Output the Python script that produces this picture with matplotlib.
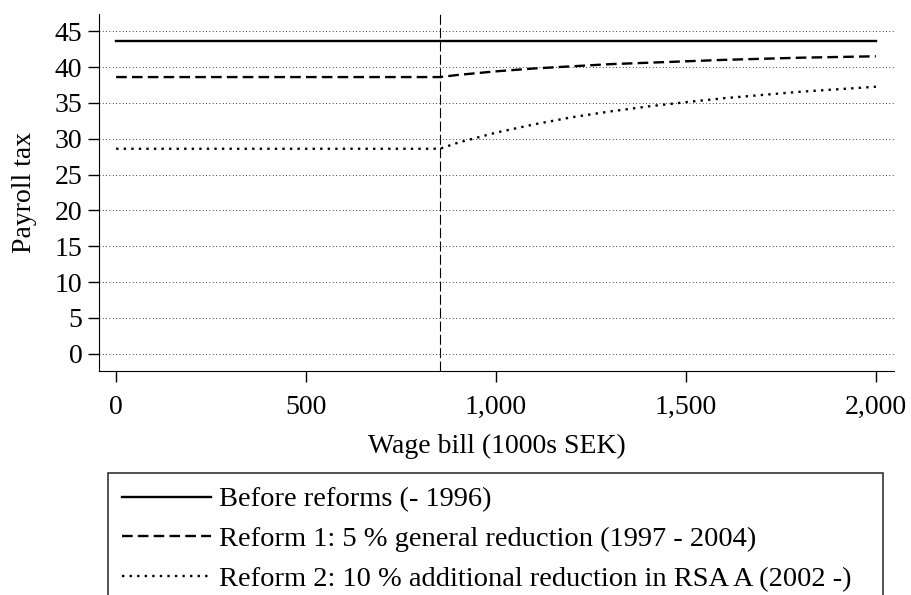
import numpy as np
import matplotlib.pyplot as plt

plt.rcParams['font.family'] = ['Liberation Serif', 'DejaVu Serif']

# wage bill (1000s SEK) and payroll tax (%)
wage = [0, 852, 900, 1000, 1100, 1200, 1300, 1400, 1500, 1600, 1700, 1800, 1900, 2000]
before = [43.65] * len(wage)
reform1 = [38.6, 38.6, 38.9, 39.4, 39.8, 40.1, 40.4, 40.6, 40.8, 41.0, 41.15, 41.3, 41.4, 41.5]
reform2 = [28.6, 28.6, 29.45, 30.85, 32.0, 33.0, 33.8, 34.5, 35.1, 35.65, 36.1, 36.55, 36.9, 37.25]
threshold = 852

labels = ['Before reforms (- 1996)',
          'Reform 1: 5 % general reduction (1997 - 2004)',
          'Reform 2: 10 % additional reduction in RSA A (2002 -)']

fig = plt.figure(figsize=(9.12, 5.95), dpi=100)
ax = fig.add_axes([0.1086, 0.3765, 0.8714, 0.6])

ax.plot(wage, before, color='black', lw=1.7, ls='-', label=labels[0])
ax.plot(wage, reform1, color='black', lw=1.7, ls=(0, (4.5, 2.2)), label=labels[1])
ax.plot(wage, reform2, color='black', lw=1.7, ls=(0, (1, 2.2)), label=labels[2])
ax.axvline(threshold, color='black', lw=0.8, ls=(0, (9, 3)))

ax.set_xlim(-45, 2047)
ax.set_ylim(-2.4, 47.4)
ax.set_yticks(np.arange(0, 46, 5))
ax.set_xticks([0, 500, 1000, 1500, 2000])
ax.set_xticklabels(['0', '500', '1,000', '1,500', '2,000'])
ax.yaxis.grid(True, color='black', lw=0.6, ls=(0, (1, 3)))
ax.set_axisbelow(True)

for s in ['top', 'right']:
    ax.spines[s].set_visible(False)
ax.tick_params(axis='both', direction='out', length=8, width=1, labelsize=20, pad=4)
ax.tick_params(axis='x', pad=9)

ax.set_ylabel('Payroll tax', fontsize=20, labelpad=13)
ax.set_xlabel('Wage bill (1000s SEK)', fontsize=20, labelpad=10)

leg = fig.legend(loc='upper left', bbox_to_anchor=(108 / 912, 1 - 473 / 595, 775 / 912, 0.0),
                 mode='expand', fontsize=20.5, frameon=True, fancybox=False,
                 edgecolor='black', handlelength=3.15, handletextpad=0.28,
                 labelspacing=0.48, borderpad=0.48, borderaxespad=0)
leg.get_frame().set_linewidth(1.2)

fig.savefig('out.png', dpi=100)
